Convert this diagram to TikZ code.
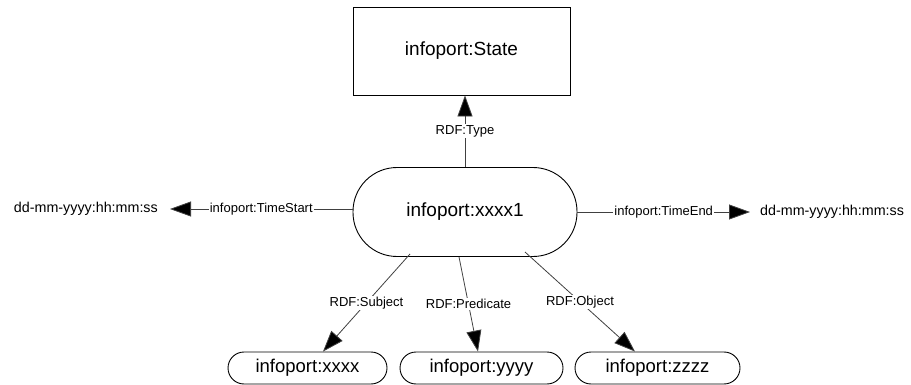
\documentclass[tikz,border=0pt]{standalone}
\usepackage{fontspec}
\setmainfont{Liberation Sans}
\usetikzlibrary{arrows.meta,calc}

\tikzset{
  classbox/.style={draw=black, line width=0.9pt, fill=white, font=\fontsize{19}{22}\selectfont,
    inner sep=0pt},
  resnode/.style={draw=black, line width=0.9pt, fill=white, font=\fontsize{19}{22}\selectfont,
    inner sep=0pt, rounded corners=44pt},
  leafnode/.style={draw=black, line width=0.9pt, fill=white, font=\fontsize{18.5}{21}\selectfont,
    inner sep=0pt, minimum height=32pt, rounded corners=16pt},
  datetext/.style={font=\fontsize{14.3}{17}\selectfont, inner ysep=2pt},
  proplabel/.style={fill=white, inner sep=1pt, font=\fontsize{13}{15}\selectfont},
  proparrow/.style={draw=black!75, line width=0.8pt, -{Triangle[length=21pt,width=15pt,fill=black]}}
}

\begin{document}
\begin{tikzpicture}[x=1pt,y=1pt]
  \useasboundingbox (0,0) rectangle (911,-385);

  % class and central resource
  \node[classbox, minimum width=217pt, minimum height=88pt] (state) at (461.5,-51) {infoport:State};
  \node[resnode, minimum width=224pt, minimum height=89pt] (main) at (465,-212) {infoport:xxxx1};

  % time stamps
  \node[datetext, anchor=east, inner xsep=12pt] (tstart) at (170,-209) {dd-mm-yyyy:hh:mm:ss};
  \node[datetext, anchor=west, inner xsep=10pt] (tend) at (750,-212) {dd-mm-yyyy:hh:mm:ss};

  % statement parts
  \node[leafnode, minimum width=159pt] (subj) at (307.5,-368) {infoport:xxxx};
  \node[leafnode, minimum width=163pt] (pred) at (481.5,-368) {infoport:yyyy};
  \node[leafnode, minimum width=165pt] (obj)  at (657.5,-368) {infoport:zzzz};

  % properties
  \draw[proparrow] (main.north) -- (main.north |- state.south)
    node[proplabel, midway] {RDF:Type};
  \draw[proparrow] (main.west |- tstart.east) -- (tstart.east)
    node[proplabel, midway] {infoport:TimeStart};
  \draw[proparrow] (main.east) -- (tend.west)
    node[proplabel, midway] {infoport:TimeEnd};
  \draw[proparrow] ($(main.center)+(-55,-42)$) -- ($(subj.north)+(15.5,0)$)
    node[proplabel, midway] {RDF:Subject};
  \draw[proparrow] ($(main.south)+(-6,0)$) -- ($(pred.north)+(-3.5,0)$)
    node[proplabel, midway] {RDF:Predicate};
  \draw[proparrow] ($(main.center)+(60,-40)$) -- ($(obj.north)+(-22.5,0)$)
    node[proplabel, midway] {RDF:Object};
\end{tikzpicture}
\end{document}
